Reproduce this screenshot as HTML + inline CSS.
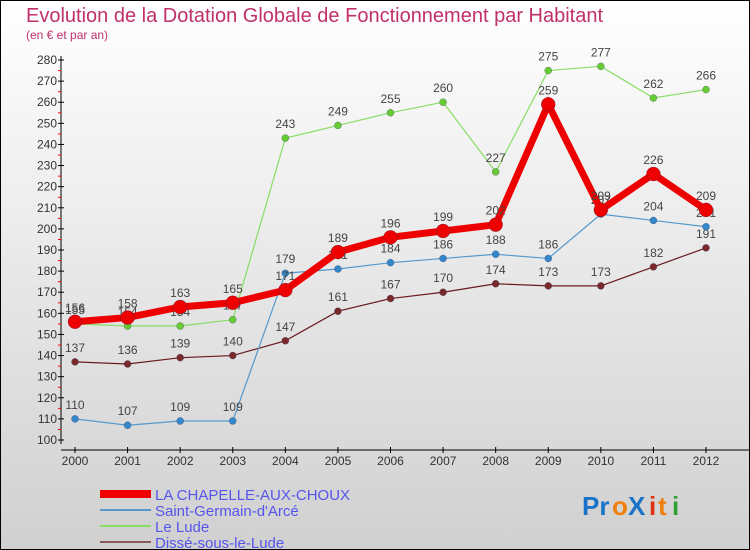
<!DOCTYPE html>
<html><head><meta charset="utf-8"><style>
body{margin:0;}
#c{width:750px;height:550px;position:relative;box-sizing:border-box;border:1px solid #000;background:linear-gradient(#fff,#d0d0d0);font-family:"Liberation Sans",sans-serif;overflow:hidden}
</style></head><body>
<div id="c">
<svg id="s" width="750" height="550" style="position:absolute;left:-1px;top:-1px">
<text x="26" y="22" font-size="20" fill="#c0306a">Evolution de la Dotation Globale de Fonctionnement par Habitant</text>
<text x="26" y="39" font-size="12" fill="#c0306a">(en € et par an)</text>
<g id="axes"></g><g id="series"></g><g id="legend"></g>
<g font-size="26" font-weight="bold">
<text x="582" y="515" fill="#1a73c8">Pr</text><text x="612" y="515" fill="#f08010">o</text><text x="628" y="515" fill="#1a73c8">X</text><text x="649" y="515" fill="#e03010">i</text><text x="658" y="515" fill="#f08010">t</text><text x="672" y="515" fill="#30a030">i</text>
</g>
</svg>
</div>
<script>
const years=[2000,2001,2002,2003,2004,2005,2006,2007,2008,2009,2010,2011,2012];
const yTicks=[100,110,120,130,140,150,160,170,180,190,200,210,220,230,240,250,260,270,280];
const chapelle=[156,158,163,165,171,189,196,199,202,259,209,226,209];
const stGermain=[110,107,109,109,179,181,184,186,188,186,207,204,201];
const leLude=[155,154,154,157,243,249,255,260,227,275,277,262,266];
const disse=[137,136,139,140,147,161,167,170,174,173,173,182,191];
const names=["LA CHAPELLE-AUX-CHOUX","Saint-Germain-d'Arcé","Le Lude","Dissé-sous-le-Lude"];
const NS="http://www.w3.org/2000/svg";
const xs=i=>75+i*(706-75)/12;
const ys=v=>440-(v-100)*380/180;
function mk(tag,attrs,parent){const e=document.createElementNS(NS,tag);for(const k in attrs)e.setAttribute(k,attrs[k]);parent.appendChild(e);return e;}
const ax=document.getElementById('axes');
let l=mk('line',{x1:61,y1:56,x2:61,y2:444,stroke:'#000'},ax);


l=mk('line',{x1:61,y1:450,x2:750,y2:450,stroke:'#000'},ax);


yTicks.forEach((v,i)=>{const y=ys(v);
mk('line',{x1:58,y1:y,x2:64,y2:y,stroke:'#000'},ax);
if(i<yTicks.length-1)mk('line',{x1:58,y1:y-10.5,x2:61,y2:y-10.5,stroke:'#f00'},ax);
const t=mk('text',{x:57,y:y+4,'font-size':12,'text-anchor':'end',fill:'#333'},ax);t.textContent=v;

});
years.forEach((yr,i)=>{const x=xs(i);
mk('line',{x1:x,y1:447,x2:x,y2:453,stroke:'#000'},ax);
const t=mk('text',{x:x,y:465,'font-size':12,'text-anchor':'middle',fill:'#333'},ax);t.textContent=yr;

});
const sg=document.getElementById('series');
const defs=[[disse,'#6a1a20','#7a2a2a',1.2,3.5,'series-disse'],[stGermain,'#5599cc','#3388cc',1.2,3.5,'series-saint-germain'],[leLude,'#88dd66','#66cc33',1.2,3.5,'series-le-lude'],[chapelle,'#ee0000','#ee0000',7,7,'series-la-chapelle']];
defs.forEach(([d,lc,pc,w,r,n])=>{const g=mk('g',{},sg);


mk('polyline',{points:d.map((v,i)=>xs(i)+','+ys(v)).join(' '),fill:'none',stroke:lc,'stroke-width':w},g);
d.forEach((v,i)=>{const c=mk('circle',{cx:xs(i),cy:ys(v),r:r,fill:pc,stroke:'#335',"stroke-width":0.3},g);


const t=mk('text',{x:xs(i),y:ys(v)-10,'font-size':12,'text-anchor':'middle',fill:'#444'},g);t.textContent=v;

});});
const lg=document.getElementById('legend');
const lcol=['#ee0000','#5599cc','#88dd66','#8a5a5a'],lw=[8,2,2,2];
names.forEach((n,i)=>{const y=494+i*16;const g=mk('g',{},lg);


mk('line',{x1:100,y1:y,x2:151,y2:y,stroke:lcol[i],'stroke-width':lw[i]},g);
const t=mk('text',{x:155,y:y+6,'font-size':15,fill:'#5555ee'},g);t.textContent=n;});
</script>
</body></html>
